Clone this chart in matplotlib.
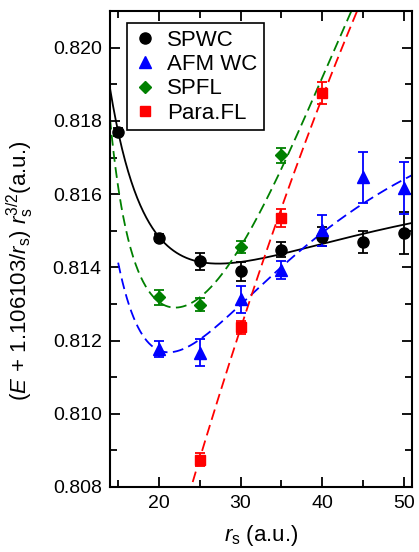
import numpy as np
import matplotlib
matplotlib.use("Agg")
import matplotlib.pyplot as plt
from matplotlib.lines import Line2D
from matplotlib.ticker import MultipleLocator, FormatStrFormatter

plt.rcParams['font.family'] = ['Liberation Sans', 'DejaVu Sans']
plt.rcParams['mathtext.fontset'] = 'custom'
plt.rcParams['mathtext.rm'] = 'Liberation Sans'
plt.rcParams['mathtext.it'] = 'Liberation Sans:italic'

# ---- data points ----
spwc_rs = [15, 20, 25, 30, 35, 40, 45, 50]
spwc_y = [0.81770, 0.81481, 0.81416, 0.81389, 0.81448, 0.81484, 0.81469, 0.81494]
spwc_err = [0.00010, 0.00010, 0.00023, 0.00026, 0.00021, 0.00025, 0.00029, 0.00058]

afm_rs = [20, 25, 30, 35, 40, 45, 50]
afm_y = [0.81176, 0.81167, 0.81313, 0.81393, 0.81501, 0.81646, 0.81617]
afm_err = [0.00022, 0.00037, 0.00037, 0.00024, 0.00043, 0.00069, 0.00070]

spfl_rs = [20, 25, 30, 35]
spfl_y = [0.81318, 0.81298, 0.81455, 0.81706]
spfl_err = [0.00020, 0.00017, 0.00017, 0.00020]

para_rs = [25, 30, 35, 40]
para_y = [0.80875, 0.81236, 0.81535, 0.81875]
para_err = [0.00017, 0.00017, 0.00024, 0.00030]

# ---- fit curves ----
spwc_fit_rs = [14.0, 15.0, 16.6, 17.8, 19.9, 23.1, 27.2, 31.1, 37.3, 45.4, 50.7]
spwc_fit_y = [0.81889, 0.81770, 0.81638, 0.81564, 0.81482, 0.81432, 0.81409, 0.81420, 0.81446, 0.81496, 0.81519]

afm_fit_rs = [15.0, 16.4, 18.9, 21.75, 25.0, 29.1, 32.0, 37.0, 40.1, 45.4, 49.5]
afm_fit_y = [0.81414, 0.81290, 0.81190, 0.81172, 0.81204, 0.81272, 0.81341, 0.81450, 0.81487, 0.81583, 0.81633]

spfl_fit_rs = [14.25, 15.0, 17.8, 19.9, 22.3, 27.2, 28.7, 34.4, 38.3, 43.6]
spfl_fit_y = [0.81752, 0.81619, 0.81373, 0.81309, 0.81286, 0.81373, 0.81409, 0.81638, 0.81834, 0.82101]

para_fit_rs = [23.9, 25.0, 30.0, 31.1, 33.0, 36.2, 40.0, 44.4]
para_fit_y = [0.80800, 0.80875, 0.81236, 0.81309, 0.81421, 0.81638, 0.81875, 0.82101]

labels = ['SPWC', 'AFM WC', 'SPFL', 'Para.FL']
colors = ['black', 'blue', 'green', 'red']


def smooth(xs, ys, basis, lo, hi):
    xs = np.asarray(xs, float)
    ys = np.asarray(ys, float)
    A = np.column_stack([f(xs / 30.0) for f in basis])
    coef, *_ = np.linalg.lstsq(A, ys, rcond=None)
    xg = np.linspace(lo, hi, 400)
    G = np.column_stack([f(xg / 30.0) for f in basis])
    return xg, G @ coef


wc_basis = [lambda t: np.ones_like(t), lambda t: t, lambda t: 1 / t,
            lambda t: 1 / t**2, lambda t: 1 / t**3]
fl_basis = [lambda t: np.ones_like(t), lambda t: t, lambda t: t**2,
            lambda t: 1 / t, lambda t: 1 / t**2, lambda t: 1 / t**3]
lin_basis = [lambda t: np.ones_like(t), lambda t: t, lambda t: t**2]

fig = plt.figure(figsize=(4.19, 5.52), dpi=100)
ax = fig.add_axes([0.2625, 0.1178, 0.7208, 0.8628])

dash = (0, (6, 3))
xg, yg = smooth(spwc_fit_rs, spwc_fit_y, wc_basis, 14.0, 51.0)
ax.plot(xg, yg, color='black', lw=1.3, zorder=2)
xg, yg = smooth(afm_fit_rs, afm_fit_y, wc_basis, 15.0, 51.0)
ax.plot(xg, yg, color='blue', lw=1.3, ls=dash, zorder=2)
xg, yg = smooth(spfl_fit_rs, spfl_fit_y, fl_basis, 14.0, 44.5)
ax.plot(xg, yg, color='green', lw=1.3, ls=dash, zorder=2)
xg, yg = smooth(para_fit_rs, para_fit_y, lin_basis, 23.0, 45.0)
ax.plot(xg, yg, color='red', lw=1.3, ls=dash, zorder=2)

ekw = dict(ls='none', capsize=3.3, elinewidth=1.3, capthick=1.3, zorder=3)
ax.errorbar(spwc_rs, spwc_y, yerr=spwc_err, fmt='o', ms=8, color='black', **ekw)
ax.errorbar(afm_rs, afm_y, yerr=afm_err, fmt='^', ms=8, color='blue', **ekw)
ax.errorbar(spfl_rs, spfl_y, yerr=spfl_err, fmt='D', ms=6.5, color='green', **ekw)
ax.errorbar(para_rs, para_y, yerr=para_err, fmt='s', ms=6.5, color='red', **ekw)

ax.set_xlim(14, 51)
ax.set_ylim(0.808, 0.82101)
ax.xaxis.set_major_locator(MultipleLocator(10))
ax.xaxis.set_minor_locator(MultipleLocator(5))
ax.yaxis.set_major_locator(MultipleLocator(0.002))
ax.yaxis.set_minor_locator(MultipleLocator(0.001))
ax.yaxis.set_major_formatter(FormatStrFormatter('%.3f'))
ax.tick_params(which='both', direction='in', top=True, right=True, labelsize=14, width=1.3)
ax.tick_params(which='major', length=7, pad=6)
ax.tick_params(which='minor', length=5)
for s in ax.spines.values():
    s.set_linewidth(1.5)

ax.set_xlabel(r'$r_\mathrm{s}$ (a.u.)', fontsize=16, labelpad=8)
ax.set_ylabel(r'$(E\,+\,1.106103/r_\mathrm{s})\ r_\mathrm{s}^{3/2}$(a.u.)', fontsize=16)
ax.yaxis.set_label_coords(-0.245, 0.455)

handles = [Line2D([], [], ls='none', marker='o', ms=8, color='black'),
           Line2D([], [], ls='none', marker='^', ms=8, color='blue'),
           Line2D([], [], ls='none', marker='D', ms=6.5, color='green'),
           Line2D([], [], ls='none', marker='s', ms=6.5, color='red')]
leg = ax.legend(handles, labels, loc='upper left', bbox_to_anchor=(0.056, 0.974),
                borderaxespad=0, fontsize=16, frameon=True, fancybox=False,
                edgecolor='black', framealpha=1, labelspacing=0.15,
                handlelength=1.0, handletextpad=0.5, borderpad=0.3)
leg.get_frame().set_linewidth(1.2)

fig.savefig('out.png', dpi=100)
